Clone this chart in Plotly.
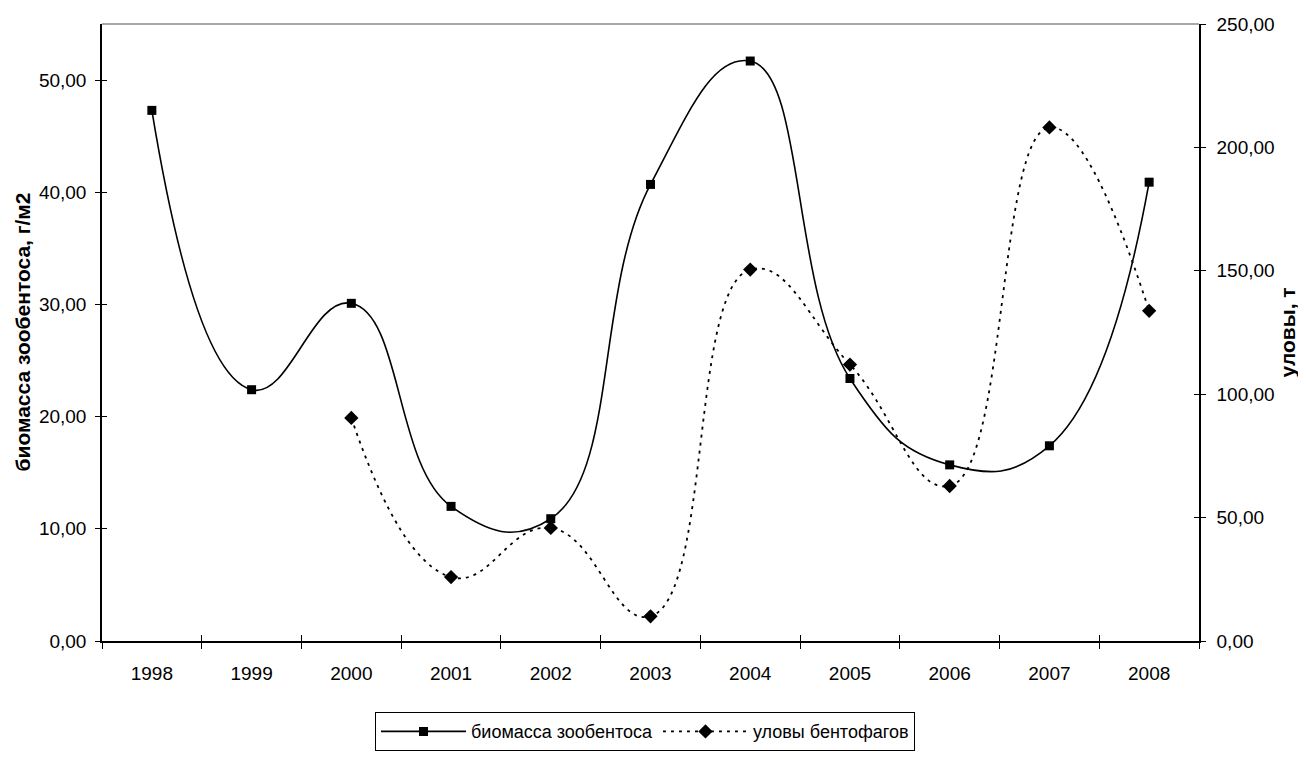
import plotly.graph_objects as go

years = ["1998", "1999", "2000", "2001", "2002", "2003", "2004", "2005", "2006", "2007", "2008"]
biomass = [47.3, 22.4, 30.1, 12.0, 10.9, 40.7, 51.7, 23.4, 15.7, 17.4, 40.9]
catches = [None, None, 90.4, 25.9, 45.8, 10.0, 150.5, 112.0, 62.8, 208.1, 133.8]

left_ticks = [0, 10, 20, 30, 40, 50]
left_labels = ["0,00", "10,00", "20,00", "30,00", "40,00", "50,00"]
right_ticks = [0, 50, 100, 150, 200, 250]
right_labels = ["0,00", "50,00", "100,00", "150,00", "200,00", "250,00"]

FONT = "Liberation Sans, Arial, sans-serif"

fig = go.Figure()
fig.add_trace(go.Scatter(
    x=years, y=biomass, name="биомасса зообентоса",
    mode="lines+markers", line=dict(color="black", width=1.6, shape="spline", smoothing=1.3),
    marker=dict(symbol="square", size=9, color="black"),
    xaxis="x", yaxis="y"))
fig.add_trace(go.Scatter(
    x=years, y=catches, name="уловы бентофагов",
    mode="lines+markers", line=dict(color="black", width=1.8, shape="spline", smoothing=1.3, dash="3px,5px"),
    marker=dict(symbol="diamond", size=11, color="black"),
    xaxis="x", yaxis="y2"))
# invisible helpers so the inner half of the crossing tick marks is drawn
fig.add_trace(go.Scatter(x=years, y=biomass, mode="lines", line=dict(width=0, color="rgba(0,0,0,0)"),
                         showlegend=False, hoverinfo="skip", xaxis="x2", yaxis="y3"))
fig.add_trace(go.Scatter(x=years, y=catches, mode="lines", line=dict(width=0, color="rgba(0,0,0,0)"),
                         showlegend=False, hoverinfo="skip", xaxis="x2", yaxis="y4"))

tickfont = dict(family=FONT, size=19, color="black")
titlefont = dict(family=FONT, size=21, color="black", weight="bold")

fig.update_layout(
    width=1298, height=755,
    margin=dict(l=94, r=107, t=16, b=122, autoexpand=False),
    paper_bgcolor="white", plot_bgcolor="white",
    font=dict(family=FONT, size=18, color="black"),
    xaxis=dict(type="category", range=[-0.5, 10.5], showgrid=False, zeroline=False, automargin=False,
               showline=True, linecolor="black", linewidth=1.5,
               ticks="outside", ticklen=6, tickwidth=1, tickcolor="black", tickson="boundaries",
               tickfont=tickfont, ticklabelstandoff=14),
    xaxis2=dict(type="category", range=[-0.5, 10.5], overlaying="x", anchor="y", side="bottom",
                showgrid=False, zeroline=False, showline=False, automargin=False,
                ticks="inside", ticklen=6, tickwidth=1, tickcolor="black", tickson="boundaries",
                showticklabels=False),
    yaxis=dict(range=[0, 55], tickvals=left_ticks, ticktext=left_labels, showgrid=False, zeroline=False,
               showline=True, linecolor="black", linewidth=1.5, automargin=False,
               ticks="outside", ticklen=5, tickwidth=1, tickcolor="black",
               tickfont=tickfont, ticklabelstandoff=5),
    yaxis2=dict(range=[0, 250], tickvals=right_ticks, ticktext=right_labels, overlaying="y", side="right",
                anchor="x", showgrid=False, zeroline=False, automargin=False,
                showline=True, linecolor="black", linewidth=1.5,
                ticks="outside", ticklen=5, tickwidth=1, tickcolor="black",
                tickfont=tickfont, ticklabelstandoff=7),
    yaxis3=dict(range=[0, 55], tickvals=left_ticks, overlaying="y", side="left", anchor="x2",
                showgrid=False, zeroline=False, showline=False, showticklabels=False, automargin=False,
                ticks="inside", ticklen=5, tickwidth=1, tickcolor="black"),
    yaxis4=dict(range=[0, 250], tickvals=right_ticks, overlaying="y", side="right", anchor="x2",
                showgrid=False, zeroline=False, showline=False, showticklabels=False, automargin=False,
                ticks="inside", ticklen=5, tickwidth=1, tickcolor="black"),
    legend=dict(orientation="h", x=0.495, y=-0.147, xanchor="center", yanchor="middle",
                bordercolor="black", borderwidth=1, bgcolor="white",
                font=dict(family=FONT, size=18, color="black"),
                itemwidth=85, tracegroupgap=0),
    shapes=[dict(type="line", xref="paper", yref="paper", x0=0, x1=1, y0=1, y1=1,
                 line=dict(color="#8c8c8c", width=1.5))],
    annotations=[
        dict(text="<b>биомасса зообентоса, г/м2</b>", xref="paper", yref="paper", x=0, y=0.5,
             xanchor="center", yanchor="middle", xshift=-80, textangle=-90, showarrow=False,
             font=titlefont),
        dict(text="<b>уловы, т</b>", xref="paper", yref="paper", x=1, y=0.5,
             xanchor="center", yanchor="middle", xshift=88, textangle=-90, showarrow=False,
             font=titlefont),
    ],
    showlegend=True,
)

fig.write_html("out.html")
